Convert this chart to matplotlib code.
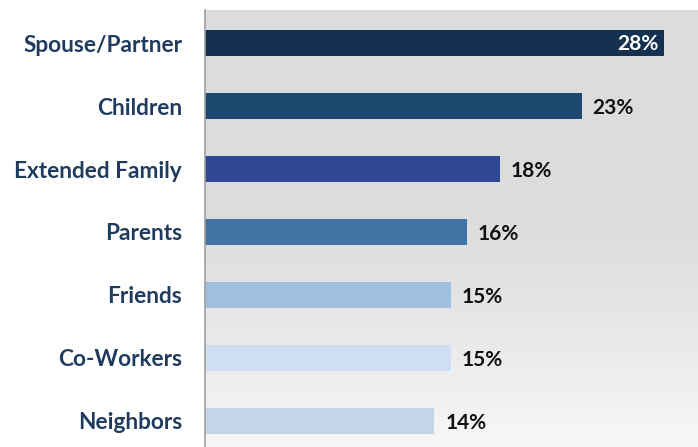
import numpy as np
import matplotlib
matplotlib.use("Agg")
import matplotlib.pyplot as plt
from matplotlib.colors import LinearSegmentedColormap

categories = ["Spouse/Partner", "Children", "Extended Family", "Parents",
              "Friends", "Co-Workers", "Neighbors"]
values = [28, 23, 18, 16, 15, 15, 14]
bar_colors = ["#14314f", "#1d4870", "#2f4896", "#4174a3",
              "#a0bfe0", "#cddff1", "#c3d5e8"]

plt.rcParams["font.family"] = ["Lato", "DejaVu Sans"]

fig = plt.figure(figsize=(6.98, 4.47), dpi=100)
fig.patch.set_facecolor("white")
ax = fig.add_axes([205 / 698, 0, 1 - 205 / 698, 437 / 447])

y = np.arange(len(categories))
ymin, ymax = -0.524, 6.413
xmax = 30.08

# soft grey background gradient, darker at the top
grad = np.concatenate([np.zeros(45), np.linspace(0, 1, 55) ** 1.2])[:, None]
cmap = LinearSegmentedColormap.from_list("bg", ["#dcdcdc", "#f7f7f7"])
ax.imshow(grad, aspect="auto", cmap=cmap, extent=[0, xmax, ymax, ymin],
          zorder=0, interpolation="bicubic")

ax.barh(y, values, height=0.40, color=bar_colors, zorder=2)

for i, v in enumerate(values):
    if i == 0:
        ax.text(v - 0.35, i + 0.01, f"{v}%", ha="right", va="center",
                color="white", fontsize=15, fontweight="bold", zorder=3)
    else:
        ax.text(v + 0.65, i + 0.03, f"{v}%", ha="left", va="center",
                color="#111111", fontsize=15, fontweight="bold", zorder=3)

ax.set_xlim(0, xmax)
ax.set_ylim(ymax, ymin)
ax.set_xticks([])
ax.set_yticks(y)
ax.set_yticklabels(categories, fontsize=16.3, fontweight="bold", color="#1f3b5e")
ax.tick_params(axis="y", length=0, pad=16.5)
for side in ["top", "right", "bottom"]:
    ax.spines[side].set_visible(False)
ax.spines["left"].set_color("#a0a0a0")
ax.spines["left"].set_linewidth(1.2)

fig.savefig("out.png", dpi=100, facecolor="white")
